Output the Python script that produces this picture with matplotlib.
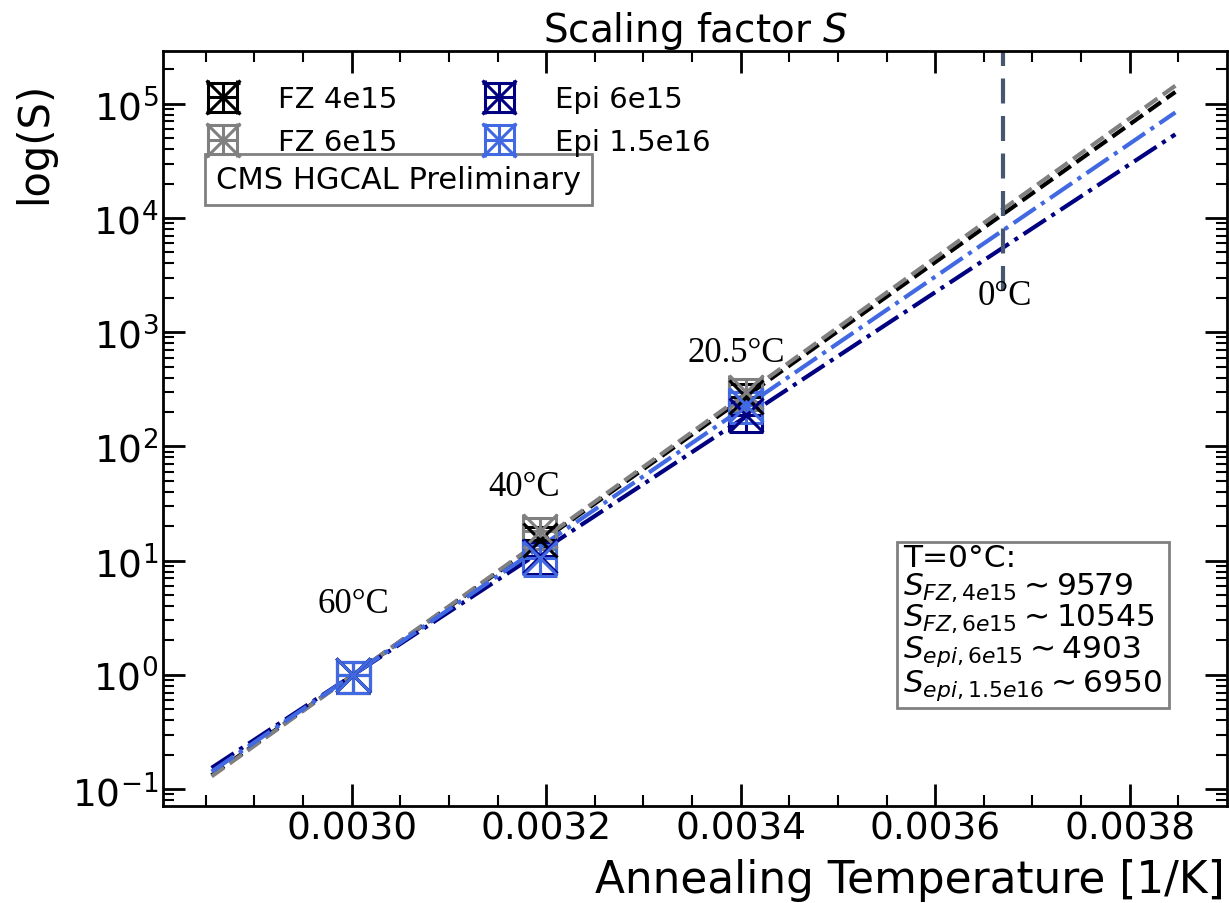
import matplotlib
matplotlib.use('Agg')
import matplotlib.pyplot as plt
import numpy as np

# annealing temperatures in degC and the inverse temperature [1/K]
temps_c = [60.0, 40.0, 20.5]
inv_T = [1.0 / (t + 273.15) for t in temps_c]
inv_T_0C = 0.00367  # position of the 0 degC marker line as drawn

labels = ['FZ 4e15', 'FZ 6e15', 'Epi 6e15', 'Epi 1.5e16']
colors = ['black', 'gray', 'navy', 'royalblue']
styles = ['--', '--', '-.', '-.']

# scaling factor S at 60, 40, 20.5 degC
s_fz_4e15 = [1.0, 15.0, 270.0]
s_fz_6e15 = [1.0, 18.0, 300.0]
s_epi_6e15 = [1.0, 11.0, 190.0]
s_epi_15e16 = [1.0, 10.5, 230.0]
s_values = [s_fz_4e15, s_fz_6e15, s_epi_6e15, s_epi_15e16]
s_rel_err = 0.3
x_err = 1.7e-5

# fitted lines, start / end points
fit_x = [0.002856, 0.003847]
fit_fz_4e15 = [0.132, 1.27e5]
fit_fz_6e15 = [0.129, 1.44e5]
fit_epi_6e15 = [0.153, 5.4e4]
fit_epi_15e16 = [0.142, 8.4e4]
fits = [fit_fz_4e15, fit_fz_6e15, fit_epi_6e15, fit_epi_15e16]

# S at 0 degC from the fits
s_0c = [9579, 10545, 4903, 6950]
s_0c_names = ['FZ,4e15', 'FZ,6e15', 'epi,6e15', 'epi,1.5e16']

# temperature annotations (text, x, y)
t_labels = ['60°C', '40°C', '20.5°C', '0°C']
t_label_x = [0.0030017, 0.0031774, 0.003395, 0.003672]
t_label_y = [4.2, 45, 660, 2.1e3]

fig = plt.figure(figsize=(12.29, 9.04), dpi=100)
ax = fig.add_axes([0.1326, 0.1073, 0.8657, 0.8352])

for i in range(4):
    ax.plot(fit_x, fits[i], styles[i], color=colors[i], lw=3)

for i in range(4):
    y = np.array(s_values[i])
    ax.errorbar(inv_T, y, xerr=x_err, yerr=s_rel_err * y, fmt='x', color=colors[i],
                ms=24, mew=2.2, elinewidth=2.2, capsize=12, capthick=2.2,
                label=labels[i])

ax.plot([inv_T_0C, inv_T_0C], [2.3e3, 1e6], '--', color='#475671', lw=3,
        dashes=(6, 3))

for txt, tx, ty in zip(t_labels, t_label_x, t_label_y):
    ax.text(tx, ty, txt, family='Liberation Serif', fontsize=25,
            ha='center', va='center')

ax.set_yscale('log')
ax.set_xlim(0.002806, 0.0039)
ax.set_ylim(0.071, 2.9e5)
ax.set_xticks([0.0030, 0.0032, 0.0034, 0.0036, 0.0038])
ax.set_xticks(np.arange(0.00285, 0.0039, 0.00005), minor=True)
ax.tick_params(which='both', direction='in', top=True, right=True, labelsize=27)
ax.tick_params(which='major', length=16, width=2)
ax.tick_params(which='minor', length=8, width=1.5)
for sp in ax.spines.values():
    sp.set_linewidth(2)

ax.set_title('Scaling factor $S$', fontsize=28, pad=4)
ax.set_xlabel('Annealing Temperature [1/K]', fontsize=31.5, ha='right', va='center')
ax.xaxis.set_label_coords(0.998, -0.097)
ax.set_ylabel('log(S)', fontsize=30, va='center')
ax.yaxis.set_label_coords(-0.121, 0.88)

ax.legend(loc='upper left', bbox_to_anchor=(0.03, 0.97), borderaxespad=0,
          ncol=2, frameon=False, fontsize=21, handlelength=1.1,
          handletextpad=1.35, columnspacing=2.95, labelspacing=0.5)

ax.text(0.0498, 0.830, 'CMS HGCAL Preliminary', transform=ax.transAxes,
        fontsize=22, ha='left', va='center',
        bbox=dict(boxstyle='square,pad=0.35', fc='white', ec='gray', lw=2))

lines = ['T=0°C:']
for name, val in zip(s_0c_names, s_0c):
    lines.append('$S_{%s}\\sim$%d' % (name, val))
ax.text(0.696, 0.243, '\n'.join(lines), transform=ax.transAxes,
        fontsize=22.5, ha='left', va='center', linespacing=0.95,
        bbox=dict(boxstyle='square,pad=0.2', fc='white', ec='gray', lw=2))

fig.savefig('out.png', dpi=100)
